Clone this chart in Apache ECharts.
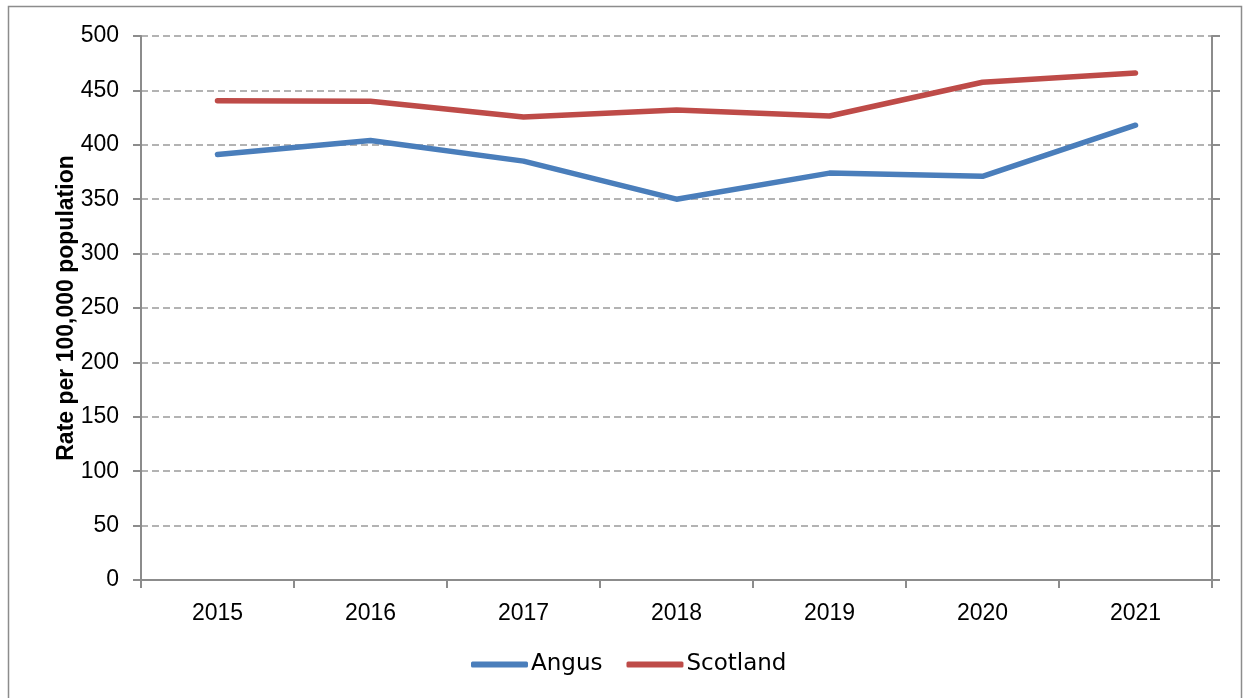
<!DOCTYPE html>
<html><head><meta charset="utf-8">
<script src="https://cdn.jsdelivr.net/npm/echarts@6/dist/echarts.min.js"></script>
<style>html,body{margin:0;padding:0;background:#fff}#c{width:1243px;height:698px}</style>
</head><body><div id="c"></div>
<script>
const years = ['2015','2016','2017','2018','2019','2020','2021'];
const angus = [391, 404, 385, 350, 374, 371, 418];
const scotland = [440.5, 440, 425.5, 432, 426.5, 457.5, 466];
const yTicks = [0, 50, 100, 150, 200, 250, 300, 350, 400, 450, 500];

const FONT = 'Liberation Sans';
const chart = echarts.init(document.getElementById('c'), null, {renderer: 'canvas'});
chart.setOption({
  animation: false,
  backgroundColor: '#fff',
  textStyle: {fontFamily: FONT},
  graphic: [{type: 'rect', shape: {x: 8.5, y: 6.5, width: 1233, height: 700},
    style: {fill: 'none', stroke: '#8c8c8c', lineWidth: 1.5}, silent: true}],
  grid: {left: 141, right: 31, top: 36, bottom: 118, containLabel: false},
  legend: {
    left: 466, top: 648, itemWidth: 57, itemHeight: 6, itemGap: 24, icon: 'roundRect',
    textStyle: {fontFamily: 'DejaVu Sans', fontSize: 23, color: '#000', padding: [0, 0, 0, -2]},
    data: ['Angus', 'Scotland']
  },
  xAxis: {
    type: 'category', data: years, boundaryGap: true,
    axisLine: {lineStyle: {color: '#8c8c8c', width: 2}},
    axisTick: {show: true, length: 8, lineStyle: {color: '#8c8c8c', width: 2}},
    axisLabel: {fontSize: 23, color: '#000', margin: 22, fontFamily: FONT}
  },
  yAxis: [{
    type: 'value', min: 0, max: yTicks[yTicks.length - 1], interval: 50,
    name: 'Rate per 100,000 population', nameLocation: 'middle', nameGap: 63, nameRotate: 90,
    nameMoveOverlap: false,
    nameTextStyle: {fontSize: 23, fontWeight: 'bold', color: '#000', fontFamily: FONT},
    axisLine: {show: true, lineStyle: {color: '#8c8c8c', width: 2}},
    axisTick: {show: true, length: 8, lineStyle: {color: '#8c8c8c', width: 2}},
    axisLabel: {fontSize: 23, color: '#000', margin: 22, fontFamily: FONT},
    splitLine: {show: true, lineStyle: {color: '#9a9a9a', width: 1.5, type: [7, 4]}}
  }, {
    type: 'value', min: 0, max: 500, interval: 50, position: 'right',
    axisLine: {show: true, lineStyle: {color: '#8c8c8c', width: 2}},
    axisTick: {show: true, length: 8, lineStyle: {color: '#8c8c8c', width: 2}},
    axisLabel: {show: false}, splitLine: {show: false}
  }],
  series: [
    {name: 'Angus', type: 'line', data: angus, symbol: 'none', yAxisIndex: 0,
     itemStyle: {color: '#4a7ebb'}, lineStyle: {color: '#4a7ebb', width: 5.5, cap: 'round', join: 'round'}},
    {name: 'Scotland', type: 'line', data: scotland, symbol: 'none', yAxisIndex: 0,
     itemStyle: {color: '#be4b48'}, lineStyle: {color: '#be4b48', width: 5.5, cap: 'round', join: 'round'}}
  ]
});
</script></body></html>
